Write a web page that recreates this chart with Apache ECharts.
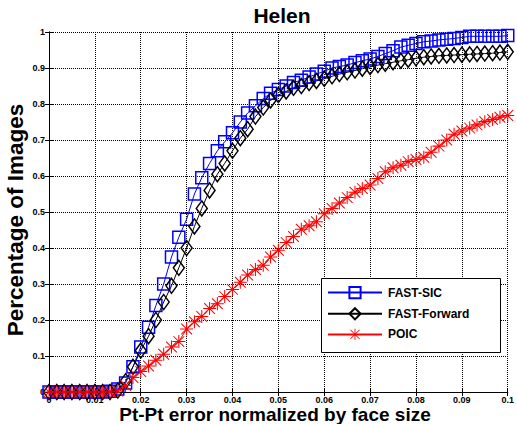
<!DOCTYPE html>
<html>
<head>
<meta charset="utf-8">
<script src="https://cdn.jsdelivr.net/npm/echarts@6/dist/echarts.min.js"></script>
<style>
html,body{margin:0;padding:0;background:#fff;}
#chart{width:517px;height:424px;}
</style>
</head>
<body>
<div id="chart"></div>
<script>
const titleText = 'Helen';
const xName = 'Pt-Pt error normalized by face size';
const yName = 'Percentage of Images';
const seriesNames = ['FAST-SIC', 'FAST-Forward', 'POIC'];

const xValues = [0, 0.0017, 0.0033, 0.005, 0.0067, 0.0083, 0.01, 0.0117, 0.0133, 0.015,
  0.0167, 0.0183, 0.02, 0.0217, 0.0233, 0.025, 0.0267, 0.0283, 0.03, 0.0317,
  0.0333, 0.035, 0.0367, 0.0383, 0.04, 0.0417, 0.0433, 0.045, 0.0467, 0.0483,
  0.05, 0.0517, 0.0533, 0.055, 0.0567, 0.0583, 0.06, 0.0617, 0.0633, 0.065,
  0.0667, 0.0683, 0.07, 0.0717, 0.0733, 0.075, 0.0767, 0.0783, 0.08, 0.0817,
  0.0833, 0.085, 0.0867, 0.0883, 0.09, 0.0917, 0.0933, 0.095, 0.0967, 0.0983, 0.1];

const fastSIC = [0, 0, 0, 0, 0, 0, 0, 0, 0.002, 0.008,
  0.025, 0.07, 0.125, 0.18, 0.24, 0.30, 0.375, 0.43, 0.48, 0.55,
  0.595, 0.635, 0.67, 0.695, 0.72, 0.75, 0.775, 0.795, 0.815, 0.83,
  0.84, 0.85, 0.86, 0.866, 0.875, 0.883, 0.891, 0.90, 0.904, 0.908,
  0.915, 0.92, 0.925, 0.932, 0.94, 0.948, 0.958, 0.963, 0.968, 0.973,
  0.975, 0.978, 0.98, 0.982, 0.985, 0.988, 0.988, 0.988, 0.988, 0.988, 0.99];

const fastForward = [0, 0, 0, 0, 0, 0, 0, 0, 0, 0.004,
  0.03, 0.07, 0.115, 0.155, 0.20, 0.25, 0.295, 0.345, 0.40, 0.46,
  0.51, 0.56, 0.605, 0.635, 0.67, 0.705, 0.73, 0.765, 0.79, 0.81,
  0.825, 0.835, 0.845, 0.85, 0.858, 0.864, 0.87, 0.877, 0.883, 0.888,
  0.893, 0.898, 0.903, 0.908, 0.912, 0.916, 0.92, 0.923, 0.927, 0.93,
  0.932, 0.934, 0.935, 0.936, 0.937, 0.938, 0.939, 0.94, 0.941, 0.943, 0.945];

const poic = [0, 0, 0, 0, 0, 0, 0, 0, 0, 0.003,
  0.018, 0.04, 0.057, 0.072, 0.088, 0.105, 0.125, 0.14, 0.175, 0.195,
  0.21, 0.232, 0.245, 0.265, 0.285, 0.305, 0.325, 0.34, 0.352, 0.375,
  0.394, 0.415, 0.432, 0.452, 0.462, 0.473, 0.495, 0.51, 0.525, 0.54,
  0.555, 0.565, 0.575, 0.593, 0.612, 0.623, 0.63, 0.64, 0.646, 0.652,
  0.666, 0.683, 0.70, 0.716, 0.725, 0.733, 0.742, 0.751, 0.757, 0.763, 0.768];

const xTicks = [0, 0.01, 0.02, 0.03, 0.04, 0.05, 0.06, 0.07, 0.08, 0.09, 0.1];
const yTicks = [0, 0.1, 0.2, 0.3, 0.4, 0.5, 0.6, 0.7, 0.8, 0.9, 1];

const asterisk = 'path://M9.2 0 L10.8 0 L10.8 20 L9.2 20 Z M0 9.2 L20 9.2 L20 10.8 L0 10.8 Z M2.3 1.2 L18.8 17.7 L17.7 18.8 L1.2 2.3 Z M17.7 1.2 L18.8 2.3 L2.3 18.8 L1.2 17.7 Z';

function pairs(ys) { return xValues.map((x, i) => [x, ys[i]]); }

const FONT = "'Liberation Sans', Arial, sans-serif";
const chart = echarts.init(document.getElementById('chart'), null, {renderer: 'svg'});

const axisCommon = {
  axisLine: {show: true, lineStyle: {color: '#000', width: 1}},
  axisTick: {show: true, inside: true, length: 4, lineStyle: {color: '#000'}},
};
const gridLine = {show: true, lineStyle: {color: '#000', width: 1, type: 'dotted', dashOffset: 0}};

chart.setOption({
  animation: false,
  backgroundColor: '#fff',
  title: {
    text: titleText, left: 277, top: 0, textAlign: 'center',
    textStyle: {fontFamily: FONT, fontWeight: 'bold', fontSize: 21, color: '#000'}
  },
  grid: {left: 49, right: 8, top: 32, bottom: 32, containLabel: false},
  xAxis: [{
    type: 'value', min: 0, max: 0.1, interval: 0.01, position: 'bottom',
    ...axisCommon,
    axisLabel: {fontFamily: FONT, fontWeight: 'bold', fontSize: 9, color: '#000', margin: 3,
      formatter: v => String(+v.toFixed(2))},
    splitLine: gridLine
  }, {
    type: 'value', min: 0, max: 0.1, interval: 0.01, position: 'top',
    ...axisCommon, axisLabel: {show: false}, splitLine: {show: false}
  }],
  yAxis: [{
    type: 'value', min: 0, max: 1, interval: 0.1, position: 'left',
    ...axisCommon,
    axisLabel: {fontFamily: FONT, fontWeight: 'bold', fontSize: 9, color: '#000', margin: 4,
      formatter: v => String(+v.toFixed(1))},
    splitLine: gridLine
  }, {
    type: 'value', min: 0, max: 1, interval: 0.1, position: 'right',
    ...axisCommon, axisLabel: {show: false}, splitLine: {show: false}
  }],
  graphic: [
    {type: 'text', z: 10, x: 275, y: 414,
      style: {text: xName, fill: '#000', font: "bold 19px 'Liberation Sans', Arial, sans-serif",
        textAlign: 'center', textVerticalAlign: 'middle'}},
    {type: 'text', rotation: Math.PI / 2, z: 10,
      x: 15, y: 220,
      style: {text: yName, fill: '#000', font: "bold 22.5px 'Liberation Sans', Arial, sans-serif",
        textAlign: 'center', textVerticalAlign: 'middle'}},
    {type: 'rect', left: 321, top: 278, z: 20,
      shape: {width: 179, height: 74},
      style: {fill: '#fff', stroke: '#000', lineWidth: 1}}
  ],
  legend: {
    orient: 'vertical', left: 327, top: 286, z: 30,
    itemWidth: 54, itemHeight: 14, itemGap: 8, padding: 0,
    textStyle: {fontFamily: FONT, fontWeight: 'bold', fontSize: 12, color: '#000', padding: [0, 0, 0, 1]},
    data: seriesNames
  },
  series: [
    {name: seriesNames[0], type: 'line', data: pairs(fastSIC), clip: false, z: 3,
      symbol: 'rect', symbolSize: 12,
      lineStyle: {color: '#0000ff', width: 1},
      itemStyle: {color: 'rgba(0,0,0,0)', borderColor: '#0000ff', borderWidth: 1.5}},
    {name: seriesNames[1], type: 'line', data: pairs(fastForward), clip: false, z: 3,
      symbol: 'diamond', symbolSize: [11, 15],
      lineStyle: {color: '#000', width: 1},
      itemStyle: {color: 'rgba(0,0,0,0)', borderColor: '#000', borderWidth: 1.5}},
    {name: seriesNames[2], type: 'line', data: pairs(poic), clip: false, z: 3,
      symbol: asterisk, symbolSize: 13,
      lineStyle: {color: '#ff0000', width: 1},
      itemStyle: {color: '#ff0000', borderWidth: 0}}
  ]
});
</script>
</body>
</html>
